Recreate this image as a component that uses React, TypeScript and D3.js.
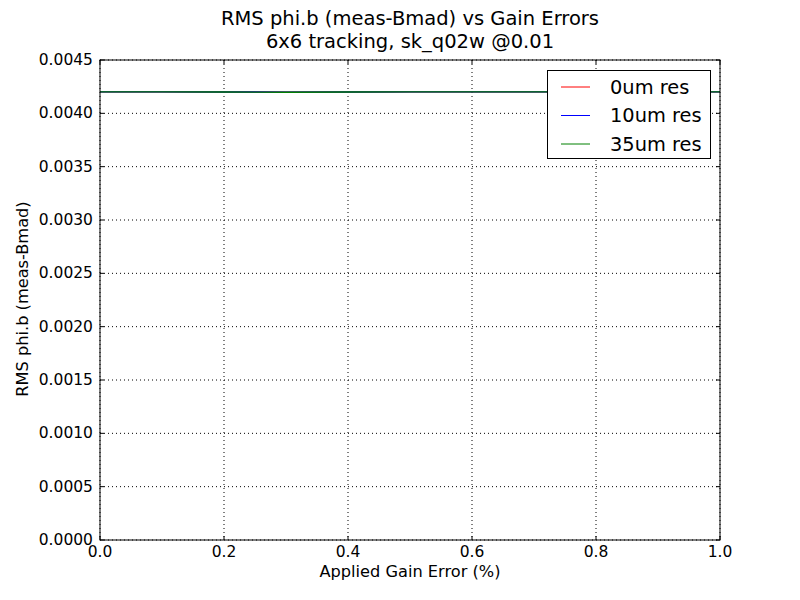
import React from "react";
import * as d3 from "d3";

const gainErrors = [0.0, 0.1, 0.2, 0.3, 0.4, 0.5, 0.6, 0.7, 0.8, 0.9, 1.0];
const res0 = [0.004201, 0.004201, 0.0042, 0.004199, 0.0042, 0.004201, 0.004201, 0.004201, 0.004201, 0.004201, 0.004201];
const res10 = [0.004201, 0.004201, 0.0042, 0.004199, 0.0042, 0.004201, 0.004201, 0.004201, 0.004201, 0.004201, 0.004201];
const res35 = [0.004201, 0.004201, 0.0042, 0.004198, 0.0042, 0.004201, 0.004201, 0.004201, 0.004201, 0.004201, 0.004201];
const seriesNames = ["0um res", "10um res", "35um res"];
const seriesColors = ["#ff0000", "#0000ff", "#008000"];
const xTicks = [0.0, 0.2, 0.4, 0.6, 0.8, 1.0];
const yTicks = [0, 0.0005, 0.001, 0.0015, 0.002, 0.0025, 0.003, 0.0035, 0.004, 0.0045];

export default function App() {
  const W = 800, H = 600;
  const L = 100, R = 720, T = 60, B = 540;
  const x = d3.scaleLinear().domain([0, 1]).range([L, R]);
  const y = d3.scaleLinear().domain([0, 0.0045]).range([B, T]);
  const all = [res0, res10, res35];
  const line = d3.line<number>().x((_, i) => x(gainErrors[i])).y((d) => y(d));
  const font = "DejaVu Sans, sans-serif";
  return (
    <svg width={W} height={H} style={{ position: "absolute", left: 0, top: 0, background: "#fff" }} fontFamily={font}>
      <rect x={0} y={0} width={W} height={H} fill="#fff" />
      {xTicks.map((t) => (
        <line key={"gx" + t} x1={x(t)} x2={x(t)} y1={T} y2={B} stroke="#000" strokeWidth={1} strokeDasharray="1,3" />
      ))}
      {yTicks.map((t) => (
        <line key={"gy" + t} x1={L} x2={R} y1={y(t)} y2={y(t)} stroke="#000" strokeWidth={1} strokeDasharray="1,3" />
      ))}
      {all.map((s, i) => (
        <path key={i} d={line(s) || ""} fill="none" stroke={seriesColors[i]} strokeWidth={1.4} />
      ))}
      <rect x={L} y={T} width={R - L} height={B - T} fill="none" stroke="#000" strokeWidth={1} />
      {xTicks.map((t) => (
        <g key={"tx" + t}>
          <line x1={x(t)} x2={x(t)} y1={B} y2={B - 4} stroke="#000" />
          <line x1={x(t)} x2={x(t)} y1={T} y2={T + 4} stroke="#000" />
          <text x={x(t)} y={B + 17} fontSize={15.5} textAnchor="middle">{t.toFixed(1)}</text>
        </g>
      ))}
      {yTicks.map((t) => (
        <g key={"ty" + t}>
          <line x1={L} x2={L + 4} y1={y(t)} y2={y(t)} stroke="#000" />
          <line x1={R} x2={R - 4} y1={y(t)} y2={y(t)} stroke="#000" />
          <text x={L - 7} y={y(t)} fontSize={15.5} textAnchor="end" dominantBaseline="central">{t.toFixed(4)}</text>
        </g>
      ))}
      <text x={410} y={577} fontSize={16.2} textAnchor="middle">Applied Gain Error (%)</text>
      <text transform={`translate(28,299) rotate(-90)`} fontSize={16.2} textAnchor="middle">RMS phi.b (meas-Bmad)</text>
      <text x={410} y={25} fontSize={19.5} textAnchor="middle">RMS phi.b (meas-Bmad) vs Gain Errors</text>
      <text x={410} y={48} fontSize={19.5} textAnchor="middle">6x6 tracking, sk_q02w @0.01</text>
      <rect x={547.5} y={70.5} width={163} height={88} fill="#fff" stroke="#000" strokeWidth={1} />
      {seriesNames.map((n, i) => (
        <g key={n}>
          <line x1={561} x2={590} y1={87 + i * 28.5} y2={87 + i * 28.5} stroke={seriesColors[i]} strokeWidth={1} />
          <text x={610} y={87 + i * 28.5} fontSize={19.4} dominantBaseline="central">{n}</text>
        </g>
      ))}
    </svg>
  );
}
